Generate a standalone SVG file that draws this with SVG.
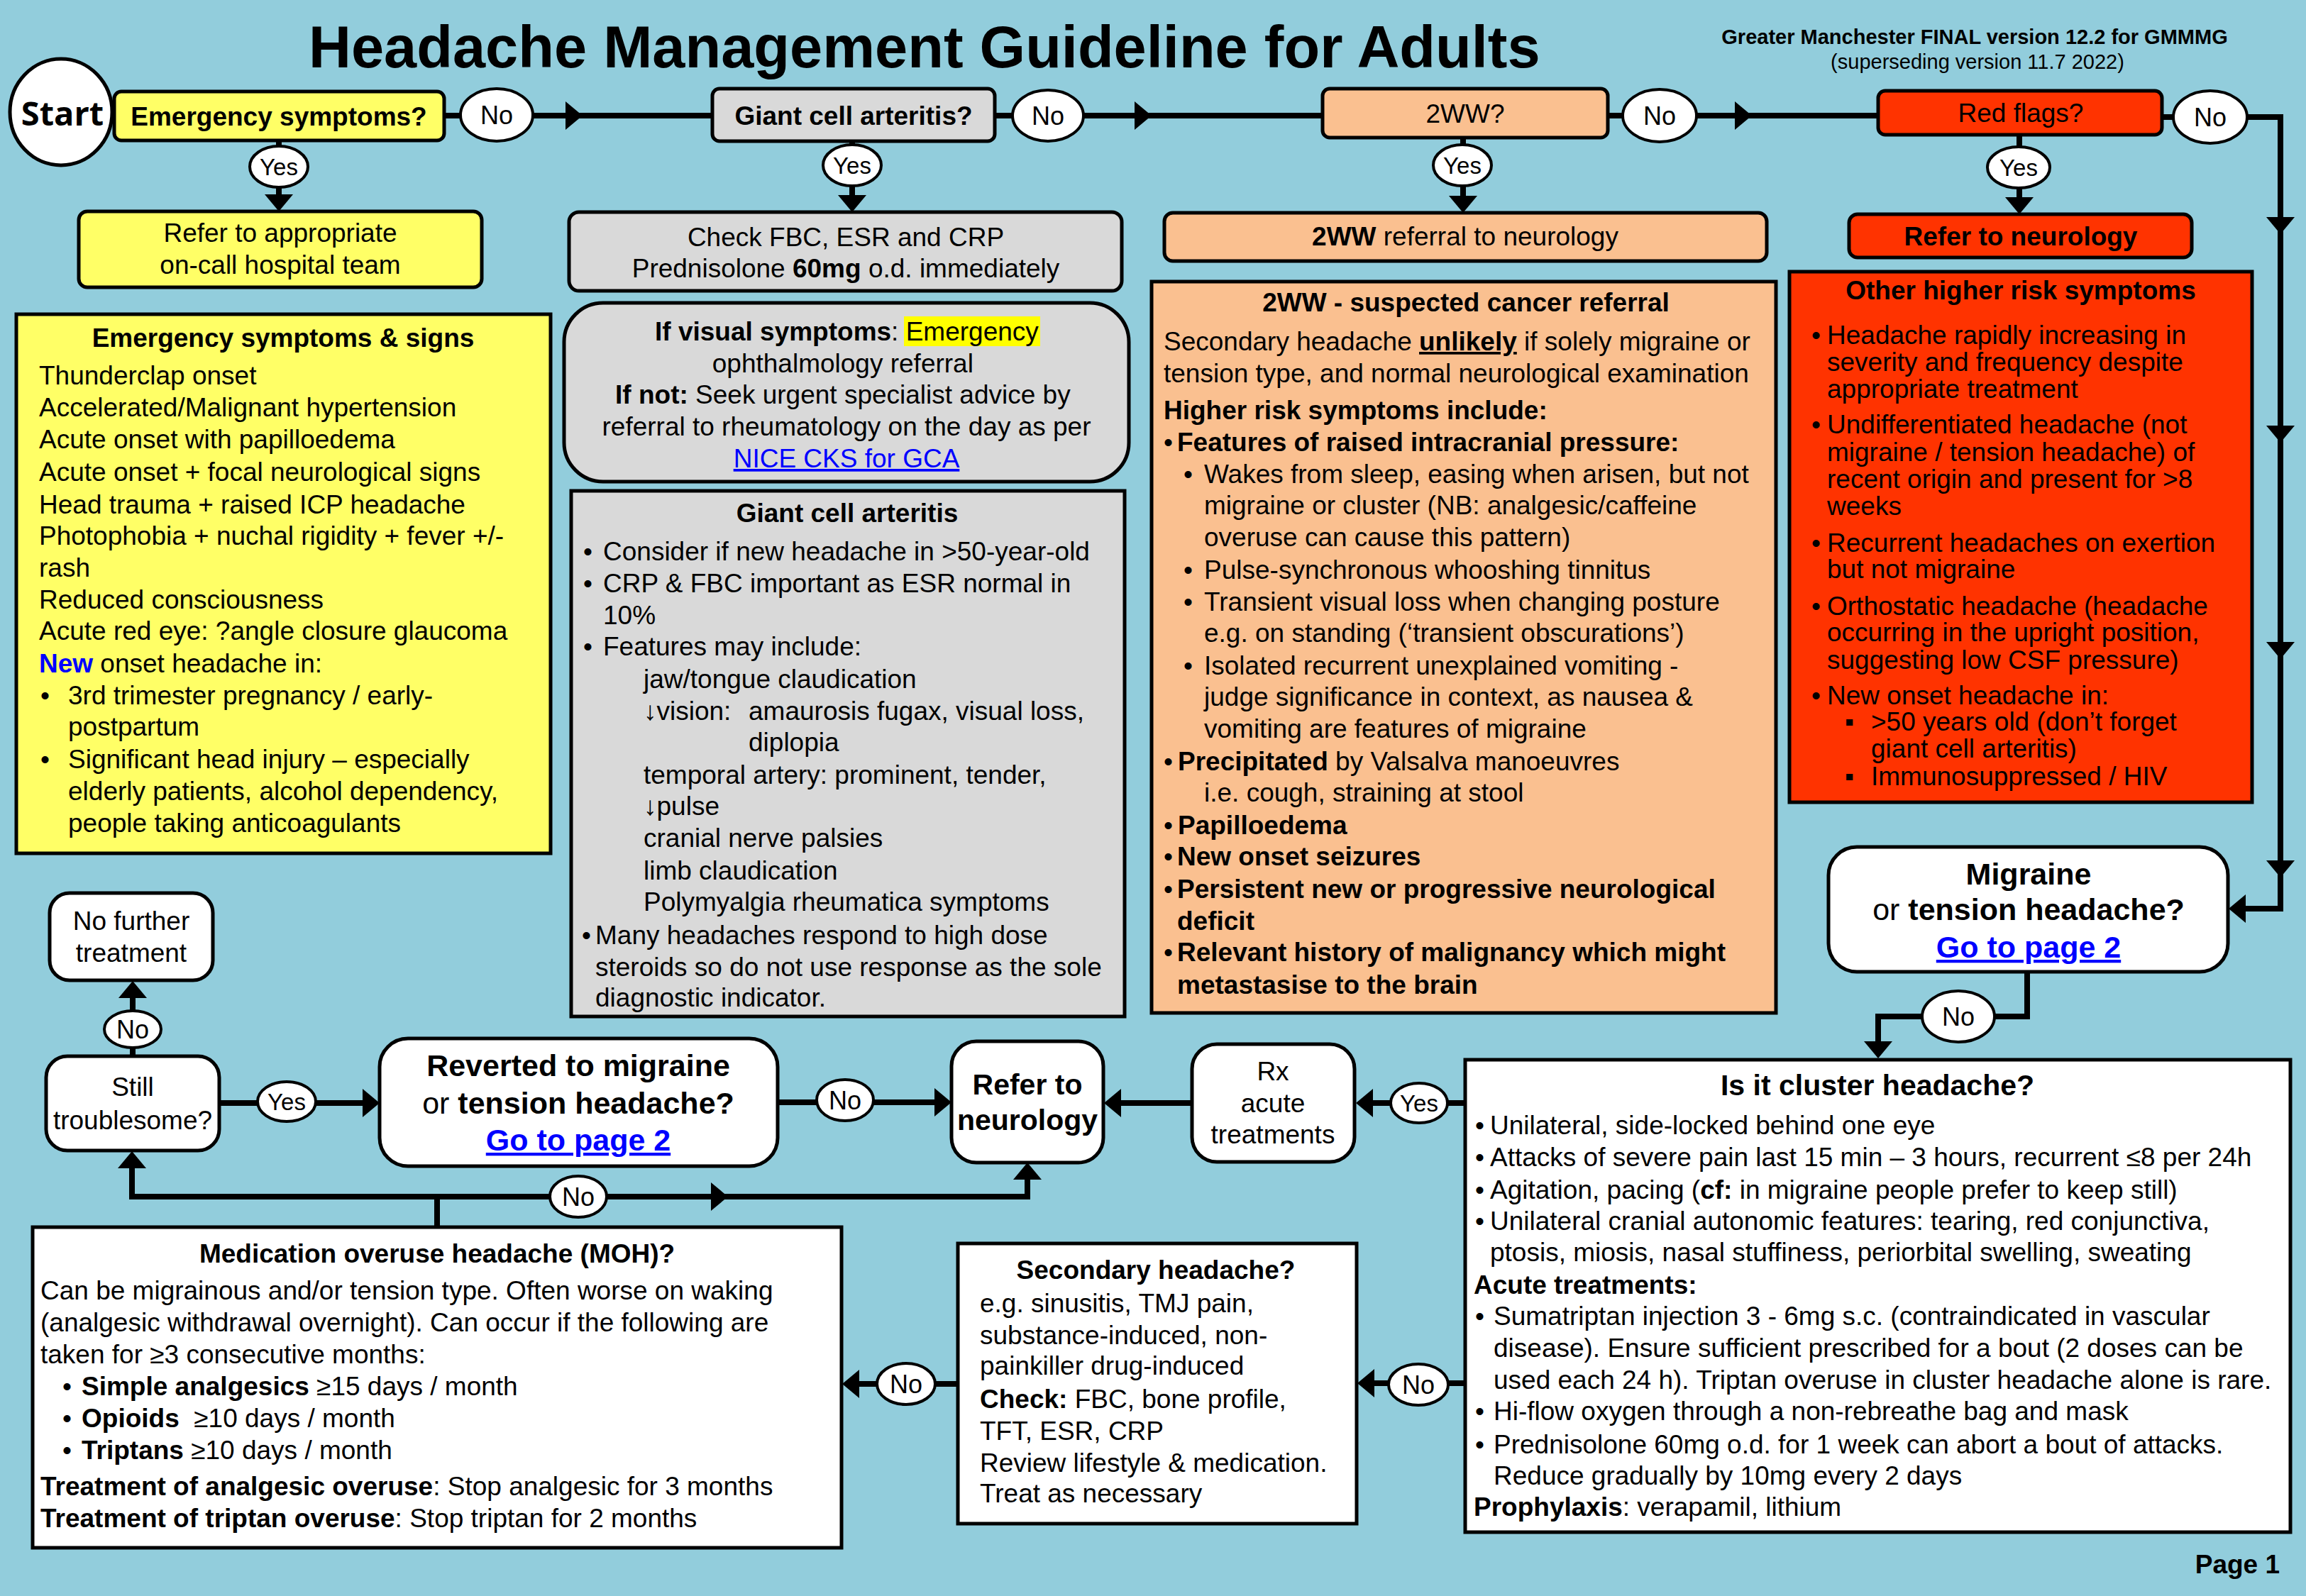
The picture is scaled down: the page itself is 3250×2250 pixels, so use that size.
<svg xmlns="http://www.w3.org/2000/svg" xmlns:xlink="http://www.w3.org/1999/xlink" width="3250" height="2250" viewBox="0 0 3250 2250">
<style>
text{font-family:"Liberation Sans",Arial,sans-serif;font-size:37px;fill:#000}
.b{font-weight:bold}
.c{text-anchor:middle}
.box{stroke:#000;stroke-width:5}
.y{fill:#FFFF66}.g{fill:#D9D9D9}.p{fill:#FAC090}.r{fill:#FF3300}.w{fill:#FFFFFF}
.ln{stroke:#000;stroke-width:8;fill:none}
.lab{fill:#fff;stroke:#000;stroke-width:4}
.lk{fill:#0000FF;text-decoration:underline}
.big{font-size:43px}
.mid{font-size:41px}
.sm{font-size:33px}
.no{font-size:36px}
</style>
<defs>
<path id="ah" d="M0,0 L-24,-20 L-24,20 Z" fill="#000"/>
</defs>
<rect x="0" y="0" width="3250" height="2250" fill="#92CDDC"/>

<g id="title">
<text x="435" y="95" class="b" style="font-size:83px">Headache Management Guideline for Adults</text>
<text x="2783" y="62" class="b c" style="font-size:29px">Greater Manchester FINAL version 12.2 for GMMMG</text>
<text x="2787" y="97" class="c" style="font-size:29px">(superseding version 11.7 2022)</text>
</g>

<g id="connectors">
<path class="ln" d="M626,163 H649 M751,163 H1004"/>
<path class="ln" d="M1402,163 H1427 M1528,163 H1864"/>
<path class="ln" d="M2266,163 H2287 M2392,163 H2647"/>
<path class="ln" d="M3047,165 H3062 M3167,165 H3214 V1281 H3150"/>
<path class="ln" d="M393,198 V210 M393,260 V285"/>
<path class="ln" d="M1201,199 V210 M1201,258 V285"/>
<path class="ln" d="M2062,194 V210 M2062,258 V285"/>
<path class="ln" d="M2846,190 V210 M2846,262 V290"/>
<path class="ln" d="M2857,1370 V1433 H2808 M2712,1433 H2647 V1480"/>
<path class="ln" d="M2065,1555 H2038 M1962,1555 H1920"/>
<path class="ln" d="M1680,1555 H1565"/>
<path class="ln" d="M1096,1554 H1152 M1230,1554 H1330"/>
<path class="ln" d="M309,1555 H364 M444,1555 H525"/>
<path class="ln" d="M187,1489 V1475 M187,1427 V1395"/>
<path class="ln" d="M616,1730 V1687 M186,1635 V1687 H776 M854,1687 H1448 V1650"/>
<path class="ln" d="M2065,1950 H2040 M1958,1950 H1922"/>
<path class="ln" d="M1350,1951 H1317 M1237,1951 H1196"/>
<use xlink:href="#ah" transform="translate(821,163)"/>
<use xlink:href="#ah" transform="translate(1623,163)"/>
<use xlink:href="#ah" transform="translate(2469,163)"/>
<use xlink:href="#ah" transform="translate(1341,1554)"/>
<use xlink:href="#ah" transform="translate(535,1555)"/>
<use xlink:href="#ah" transform="translate(1026,1687)"/>
<use xlink:href="#ah" transform="translate(393,298) rotate(90)"/>
<use xlink:href="#ah" transform="translate(1201,299) rotate(90)"/>
<use xlink:href="#ah" transform="translate(2062,300) rotate(90)"/>
<use xlink:href="#ah" transform="translate(2846,302) rotate(90)"/>
<use xlink:href="#ah" transform="translate(3214,330) rotate(90)"/>
<use xlink:href="#ah" transform="translate(3214,624) rotate(90)"/>
<use xlink:href="#ah" transform="translate(3214,929) rotate(90)"/>
<use xlink:href="#ah" transform="translate(3214,1237) rotate(90)"/>
<use xlink:href="#ah" transform="translate(2647,1492) rotate(90)"/>
<use xlink:href="#ah" transform="translate(3141,1281) rotate(180)"/>
<use xlink:href="#ah" transform="translate(1911,1555) rotate(180)"/>
<use xlink:href="#ah" transform="translate(1556,1555) rotate(180)"/>
<use xlink:href="#ah" transform="translate(1913,1950) rotate(180)"/>
<use xlink:href="#ah" transform="translate(1187,1951) rotate(180)"/>
<use xlink:href="#ah" transform="translate(187,1383) rotate(-90)"/>
<use xlink:href="#ah" transform="translate(186,1623) rotate(-90)"/>
<use xlink:href="#ah" transform="translate(1448,1639) rotate(-90)"/>
<g id="labels">
<ellipse class="lab" cx="700" cy="162" rx="51" ry="37"/><text x="700" y="175" class="c no">No</text>
<ellipse class="lab" cx="1477" cy="163" rx="50" ry="36"/><text x="1477" y="176" class="c no">No</text>
<ellipse class="lab" cx="2339" cy="163" rx="52" ry="37"/><text x="2339" y="176" class="c no">No</text>
<ellipse class="lab" cx="3115" cy="165" rx="52" ry="37"/><text x="3115" y="178" class="c no">No</text>
<ellipse class="lab" cx="393" cy="235" rx="41" ry="29"/><text x="393" y="247" class="c sm">Yes</text>
<ellipse class="lab" cx="1201" cy="233" rx="41" ry="29"/><text x="1201" y="245" class="c sm">Yes</text>
<ellipse class="lab" cx="2061" cy="233" rx="41" ry="29"/><text x="2061" y="245" class="c sm">Yes</text>
<ellipse class="lab" cx="2845" cy="236" rx="44" ry="29"/><text x="2845" y="248" class="c sm">Yes</text>
<ellipse class="lab" cx="2760" cy="1433" rx="51" ry="36"/><text x="2760" y="1446" class="c no">No</text>
<ellipse class="lab" cx="2000" cy="1555" rx="40" ry="28"/><text x="2000" y="1567" class="c sm">Yes</text>
<ellipse class="lab" cx="1191" cy="1551" rx="40" ry="29"/><text x="1191" y="1564" class="c no">No</text>
<ellipse class="lab" cx="404" cy="1553" rx="41" ry="28"/><text x="404" y="1565" class="c sm">Yes</text>
<ellipse class="lab" cx="187" cy="1451" rx="40" ry="26"/><text x="187" y="1464" class="c no">No</text>
<ellipse class="lab" cx="815" cy="1687" rx="40" ry="29"/><text x="815" y="1700" class="c no">No</text>
<ellipse class="lab" cx="1999" cy="1952" rx="42" ry="29"/><text x="1999" y="1965" class="c no">No</text>
<ellipse class="lab" cx="1277" cy="1951" rx="41" ry="29"/><text x="1277" y="1964" class="c no">No</text>
</g>
</g>

<g id="start">
<ellipse cx="86" cy="158" rx="72" ry="75" class="w box"/>
<text x="88" y="177" class="c b" style="font-family:'Open Sans','Liberation Sans',sans-serif;font-size:47px">Start</text>
</g>

<g id="q-emergency">
<rect x="161" y="129" width="465" height="69" rx="10" class="y box"/>
<text x="393" y="177" class="c b">Emergency symptoms?</text>
</g>
<g id="q-gca">
<rect x="1004" y="125" width="398" height="74" rx="10" class="g box"/>
<text x="1203" y="176" class="c b">Giant cell arteritis?</text>
</g>
<g id="q-2ww">
<rect x="1864" y="125" width="402" height="69" rx="10" class="p box"/>
<text x="2065" y="173" class="c">2WW?</text>
</g>
<g id="q-red">
<rect x="2647" y="128" width="400" height="62" rx="10" class="r box"/>
<text x="2848" y="172" class="c">Red flags?</text>
</g>

<g id="refer-oncall">
<rect x="111" y="298" width="568" height="107" rx="12" class="y box"/>
<text class="c"><tspan x="395" y="341">Refer to appropriate</tspan><tspan x="395" y="386">on-call hospital team</tspan></text>
</g>
<g id="check-fbc">
<rect x="802" y="299" width="779" height="111" rx="14" class="g box"/>
<text class="c"><tspan x="1192" y="347">Check FBC, ESR and CRP</tspan><tspan x="1192" y="391">Prednisolone <tspan class="b">60mg</tspan> o.d. immediately</tspan></text>
</g>
<g id="refer-2ww">
<rect x="1641" y="300" width="849" height="68" rx="12" class="p box"/>
<text x="2065" y="346" class="c"><tspan class="b">2WW</tspan> referral to neurology</text>
</g>
<g id="refer-red">
<rect x="2606" y="302" width="483" height="61" rx="12" class="r box"/>
<text x="2848" y="346" class="c b">Refer to neurology</text>
</g>

<g id="emergency-signs">
<rect x="23" y="443" width="753" height="760" class="y box"/>
<text x="399" y="489" class="c b">Emergency symptoms &amp; signs</text>
<text>
<tspan x="55" y="542">Thunderclap onset</tspan>
<tspan x="55" y="587">Accelerated/Malignant hypertension</tspan>
<tspan x="55" y="632">Acute onset with papilloedema</tspan>
<tspan x="55" y="678">Acute onset + focal neurological signs</tspan>
<tspan x="55" y="724">Head trauma + raised ICP headache</tspan>
<tspan x="55" y="768">Photophobia + nuchal rigidity + fever +/-</tspan>
<tspan x="55" y="813">rash</tspan>
<tspan x="55" y="858">Reduced consciousness</tspan>
<tspan x="55" y="902">Acute red eye: ?angle closure glaucoma</tspan>
<tspan x="55" y="948"><tspan class="b" style="fill:#0000FF">New</tspan> onset headache in:</tspan>
<tspan x="57" y="993">•</tspan><tspan x="96" y="993">3rd trimester pregnancy / early-</tspan>
<tspan x="96" y="1037">postpartum</tspan>
<tspan x="57" y="1083">•</tspan><tspan x="96" y="1083">Significant head injury – especially</tspan>
<tspan x="96" y="1128">elderly patients, alcohol dependency,</tspan>
<tspan x="96" y="1173">people taking anticoagulants</tspan>
</text>
</g>

<g id="gca-visual">
<rect x="795" y="427" width="796" height="252" rx="55" class="g box"/>
<rect x="1274" y="446" width="192" height="42" fill="#FFFF00"/>
<text x="923" y="480"><tspan class="b">If visual symptoms</tspan>: Emergency</text>
<text class="c">
<tspan x="1193" y="525">ophthalmology referral</tspan>
<tspan x="1193" y="569"><tspan class="b">If not:</tspan> Seek urgent specialist advice by</tspan>
<tspan x="1193" y="614">referral to rheumatology on the day as per</tspan>
</text>
<text x="1193" y="659" class="c lk">NICE CKS for GCA</text>
</g>

<g id="gca-info">
<rect x="805" y="692" width="780" height="741" class="g box"/>
<text x="1194" y="736" class="c b">Giant cell arteritis</text>
<text>
<tspan x="822" y="790">•</tspan><tspan x="850" y="790">Consider if new headache in &gt;50-year-old</tspan>
<tspan x="822" y="835">•</tspan><tspan x="850" y="835">CRP &amp; FBC important as ESR normal in</tspan>
<tspan x="850" y="880">10%</tspan>
<tspan x="822" y="924">•</tspan><tspan x="850" y="924">Features may include:</tspan>
<tspan x="907" y="970">jaw/tongue claudication</tspan>
<tspan x="907" y="1015">↓vision:</tspan><tspan x="1055" y="1015">amaurosis fugax, visual loss,</tspan>
<tspan x="1055" y="1059">diplopia</tspan>
<tspan x="907" y="1105">temporal artery: prominent, tender,</tspan>
<tspan x="907" y="1149">↓pulse</tspan>
<tspan x="907" y="1194">cranial nerve palsies</tspan>
<tspan x="907" y="1240">limb claudication</tspan>
<tspan x="907" y="1284">Polymyalgia rheumatica symptoms</tspan>
<tspan x="820" y="1331">•</tspan><tspan x="839" y="1331">Many headaches respond to high dose</tspan>
<tspan x="839" y="1376">steroids so do not use response as the sole</tspan>
<tspan x="839" y="1419">diagnostic indicator.</tspan>
</text>
</g>

<g id="2ww-info">
<rect x="1623" y="397" width="880" height="1031" class="p box"/>
<text x="2066" y="439" class="c b">2WW - suspected cancer referral</text>
<text>
<tspan x="1640" y="494">Secondary headache <tspan class="b" style="text-decoration:underline">unlikely</tspan> if solely migraine or</tspan>
<tspan x="1640" y="539">tension type, and normal neurological examination</tspan>
<tspan x="1640" y="591" class="b">Higher risk symptoms include:</tspan>
<tspan x="1640" y="636">•</tspan><tspan x="1659" y="636" class="b">Features of raised intracranial pressure:</tspan>
<tspan x="1668" y="681">•</tspan><tspan x="1697" y="681">Wakes from sleep, easing when arisen, but not</tspan>
<tspan x="1697" y="725">migraine or cluster (NB: analgesic/caffeine</tspan>
<tspan x="1697" y="770">overuse can cause this pattern)</tspan>
<tspan x="1668" y="816">•</tspan><tspan x="1697" y="816">Pulse-synchronous whooshing tinnitus</tspan>
<tspan x="1668" y="861">•</tspan><tspan x="1697" y="861">Transient visual loss when changing posture</tspan>
<tspan x="1697" y="905">e.g. on standing (‘transient obscurations’)</tspan>
<tspan x="1668" y="951">•</tspan><tspan x="1697" y="951">Isolated recurrent unexplained vomiting -</tspan>
<tspan x="1697" y="995">judge significance in context, as nausea &amp;</tspan>
<tspan x="1697" y="1040">vomiting are features of migraine</tspan>
<tspan x="1640" y="1086">•</tspan><tspan x="1660" y="1086"><tspan class="b">Precipitated</tspan> by Valsalva manoeuvres</tspan>
<tspan x="1697" y="1130">i.e. cough, straining at stool</tspan>
<tspan x="1640" y="1176">•</tspan><tspan x="1660" y="1176" class="b">Papilloedema</tspan>
<tspan x="1640" y="1220">•</tspan><tspan x="1659" y="1220" class="b">New onset seizures</tspan>
<tspan x="1640" y="1266">•</tspan><tspan x="1659" y="1266" class="b">Persistent new or progressive neurological</tspan>
<tspan x="1659" y="1311" class="b">deficit</tspan>
<tspan x="1640" y="1355">•</tspan><tspan x="1659" y="1355" class="b">Relevant history of malignancy which might</tspan>
<tspan x="1659" y="1401" class="b">metastasise to the brain</tspan>
</text>
</g>

<g id="red-info">
<rect x="2522" y="383" width="652" height="748" class="r box"/>
<text x="2848" y="422" class="c b">Other higher risk symptoms</text>
<text>
<tspan x="2553" y="485">•</tspan><tspan x="2575" y="485">Headache rapidly increasing in</tspan>
<tspan x="2575" y="523">severity and frequency despite</tspan>
<tspan x="2575" y="561">appropriate treatment</tspan>
<tspan x="2553" y="611">•</tspan><tspan x="2575" y="611">Undifferentiated headache (not</tspan>
<tspan x="2575" y="650">migraine / tension headache) of</tspan>
<tspan x="2575" y="688">recent origin and present for &gt;8</tspan>
<tspan x="2575" y="726">weeks</tspan>
<tspan x="2553" y="778">•</tspan><tspan x="2575" y="778">Recurrent headaches on exertion</tspan>
<tspan x="2575" y="815">but not migraine</tspan>
<tspan x="2553" y="867">•</tspan><tspan x="2575" y="867">Orthostatic headache (headache</tspan>
<tspan x="2575" y="904">occurring in the upright position,</tspan>
<tspan x="2575" y="943">suggesting low CSF pressure)</tspan>
<tspan x="2553" y="993">•</tspan><tspan x="2575" y="993">New onset headache in:</tspan>
<tspan x="2600" y="1030">▪</tspan><tspan x="2637" y="1030">&gt;50 years old (don’t forget</tspan>
<tspan x="2637" y="1068">giant cell arteritis)</tspan>
<tspan x="2600" y="1107">▪</tspan><tspan x="2637" y="1107">Immunosuppressed / HIV</tspan>
</text>
</g>

<g id="migraine">
<rect x="2577" y="1194" width="563" height="176" rx="40" class="w box"/>
<text class="c big"><tspan x="2859" y="1247" class="b">Migraine</tspan><tspan x="2859" y="1297">or <tspan class="b">tension headache?</tspan></tspan></text>
<text x="2859" y="1350" class="c big b lk">Go to page 2</text>
</g>

<g id="cluster">
<rect x="2065" y="1494" width="1163" height="666" class="w box"/>
<text x="2646" y="1544" class="c b mid">Is it cluster headache?</text>
<text>
<tspan x="2079" y="1599">•</tspan><tspan x="2100" y="1599">Unilateral, side-locked behind one eye</tspan>
<tspan x="2079" y="1644">•</tspan><tspan x="2100" y="1644">Attacks of severe pain last 15 min – 3 hours, recurrent ≤8 per 24h</tspan>
<tspan x="2079" y="1690">•</tspan><tspan x="2100" y="1690">Agitation, pacing (<tspan class="b">cf:</tspan> in migraine people prefer to keep still)</tspan>
<tspan x="2079" y="1734">•</tspan><tspan x="2100" y="1734">Unilateral cranial autonomic features: tearing, red conjunctiva,</tspan>
<tspan x="2100" y="1778">ptosis, miosis, nasal stuffiness, periorbital swelling, sweating</tspan>
<tspan x="2077" y="1824" class="b">Acute treatments:</tspan>
<tspan x="2079" y="1868">•</tspan><tspan x="2105" y="1868">Sumatriptan injection 3 - 6mg s.c. (contraindicated in vascular</tspan>
<tspan x="2105" y="1913">disease). Ensure sufficient prescribed for a bout (2 doses can be</tspan>
<tspan x="2105" y="1958">used each 24 h). Triptan overuse in cluster headache alone is rare.</tspan>
<tspan x="2079" y="2002">•</tspan><tspan x="2105" y="2002">Hi-flow oxygen through a non-rebreathe bag and mask</tspan>
<tspan x="2079" y="2049">•</tspan><tspan x="2105" y="2049">Prednisolone 60mg o.d. for 1 week can abort a bout of attacks.</tspan>
<tspan x="2105" y="2093">Reduce gradually by 10mg every 2 days</tspan>
<tspan x="2077" y="2137"><tspan class="b">Prophylaxis</tspan>: verapamil, lithium</tspan>
</text>
</g>

<g id="rx-acute">
<rect x="1680" y="1472" width="229" height="166" rx="35" class="w box"/>
<text class="c"><tspan x="1794" y="1523">Rx</tspan><tspan x="1794" y="1568">acute</tspan><tspan x="1794" y="1612">treatments</tspan></text>
</g>

<g id="refer-neurology">
<rect x="1341" y="1468" width="214" height="171" rx="35" class="w box"/>
<text class="c b mid"><tspan x="1448" y="1543">Refer to</tspan><tspan x="1448" y="1593">neurology</tspan></text>
</g>

<g id="reverted">
<rect x="535" y="1464" width="561" height="180" rx="40" class="w box"/>
<text class="c big"><tspan x="815" y="1517" class="b">Reverted to migraine</tspan><tspan x="815" y="1570">or <tspan class="b">tension headache?</tspan></tspan></text>
<text x="815" y="1622" class="c big b lk">Go to page 2</text>
</g>

<g id="still-troublesome">
<rect x="65" y="1489" width="244" height="133" rx="30" class="w box"/>
<text class="c"><tspan x="187" y="1545">Still</tspan><tspan x="187" y="1592">troublesome?</tspan></text>
</g>

<g id="no-further">
<rect x="70" y="1259" width="230" height="123" rx="28" class="w box"/>
<text class="c"><tspan x="185" y="1311">No further</tspan><tspan x="185" y="1356">treatment</tspan></text>
</g>

<g id="moh">
<rect x="46" y="1730" width="1140" height="452" class="w box"/>
<text x="616" y="1780" class="c b">Medication overuse headache (MOH)?</text>
<text>
<tspan x="57" y="1832">Can be migrainous and/or tension type. Often worse on waking</tspan>
<tspan x="57" y="1877">(analgesic withdrawal overnight). Can occur if the following are</tspan>
<tspan x="57" y="1922">taken for ≥3 consecutive months:</tspan>
<tspan x="88" y="1967">•</tspan><tspan x="115" y="1967"><tspan class="b">Simple analgesics</tspan> ≥15 days / month</tspan>
<tspan x="88" y="2012">•</tspan><tspan x="115" y="2012"><tspan class="b">Opioids</tspan>&#160; ≥10 days / month</tspan>
<tspan x="88" y="2057">•</tspan><tspan x="115" y="2057"><tspan class="b">Triptans</tspan> ≥10 days / month</tspan>
<tspan x="57" y="2108"><tspan class="b">Treatment of analgesic overuse</tspan>: Stop analgesic for 3 months</tspan>
<tspan x="57" y="2153"><tspan class="b">Treatment of triptan overuse</tspan>: Stop triptan for 2 months</tspan>
</text>
</g>

<g id="secondary">
<rect x="1350" y="1753" width="562" height="395" class="w box"/>
<text x="1629" y="1803" class="c b">Secondary headache?</text>
<text>
<tspan x="1381" y="1850">e.g. sinusitis, TMJ pain,</tspan>
<tspan x="1381" y="1895">substance-induced, non-</tspan>
<tspan x="1381" y="1938">painkiller drug-induced</tspan>
<tspan x="1381" y="1985"><tspan class="b">Check:</tspan> FBC, bone profile,</tspan>
<tspan x="1381" y="2030">TFT, ESR, CRP</tspan>
<tspan x="1381" y="2075">Review lifestyle &amp; medication.</tspan>
<tspan x="1381" y="2118">Treat as necessary</tspan>
</text>
</g>

<g id="page">
<text x="3213" y="2218" class="b" style="text-anchor:end">Page 1</text>
</g>
</svg>
